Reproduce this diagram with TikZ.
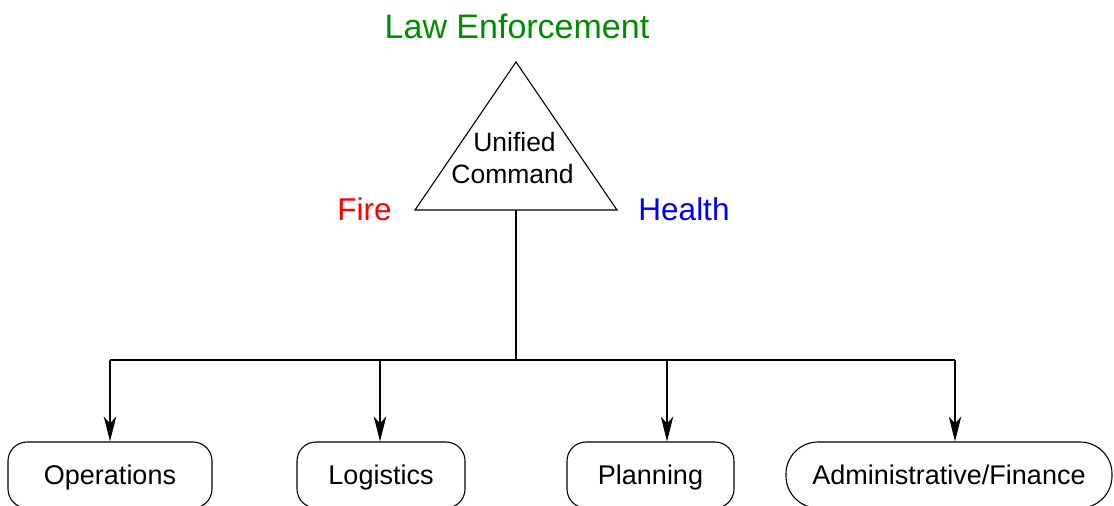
\documentclass[tikz,border=0pt]{standalone}
\usepackage{fontspec}
\setmainfont{Liberation Sans}
\usetikzlibrary{arrows.meta}
\definecolor{lawgreen}{RGB}{0,140,0}
\tikzset{
  conn/.style={line width=1.1pt},
  arr/.style={conn,-{Stealth[length=25pt,width=12.5pt,inset=7pt]}},
  unitbox/.style={draw,line width=1.1pt,rounded corners=19pt,minimum height=66pt,inner sep=0pt,
    font=\fontsize{27}{32}\selectfont,text height=19.5pt,text depth=0pt},
  agency/.style={anchor=base,inner sep=0pt},
  uctext/.style={anchor=base,inner sep=0pt,font=\fontsize{26.5}{32}\selectfont}
}
\begin{document}
\begin{tikzpicture}[x=1pt,y=-1pt]
\useasboundingbox (0,0) rectangle (1114,506);
\clip (0,0) rectangle (1114,506);
% triangle
\coordinate (apex) at (516,62);
\coordinate (bl) at (415,210);
\coordinate (br) at (617,210);
\coordinate (base) at (516,210);
\draw[conn,line join=miter] (apex) -- (bl) -- (br) -- cycle;
\node[uctext] (ucA) at (514.5,151) {Unified};
\node[uctext] (ucB) at (512.5,183) {Command};
% agencies
\node[agency,text=lawgreen,font=\fontsize{34}{40}\selectfont] (law) at (517,38) {Law Enforcement};
\node[agency,text=red,font=\fontsize{31.5}{38}\selectfont] (fire) at (364.5,220) {Fire};
\node[agency,text=blue,font=\fontsize{31.5}{38}\selectfont] (health) at (684,220) {Health};
% sections
\node[unitbox,minimum width=204pt] (ops) at (110,475) {Operations};
\node[unitbox,minimum width=168pt] (log) at (381,475) {Logistics};
\node[unitbox,minimum width=167pt] (plan) at (650.5,475) {Planning};
\node[unitbox,minimum width=326pt,rounded corners=32pt] (adm) at (949,475) {Administrative/Finance};
% connectors
\coordinate (hub) at (516,360);
\coordinate (j1) at (110,360);
\coordinate (j2) at (380,360);
\coordinate (j3) at (667,360);
\coordinate (j4) at (955,360);
\draw[conn] (base) -- (hub);
\draw[conn] (j1) -- (j4);
\draw[arr] (j1) -- (j1 |- ops.north);
\draw[arr] (j2) -- (j2 |- log.north);
\draw[arr] (j3) -- (j3 |- plan.north);
\draw[arr] (j4) -- (j4 |- adm.north);
\end{tikzpicture}
\end{document}
